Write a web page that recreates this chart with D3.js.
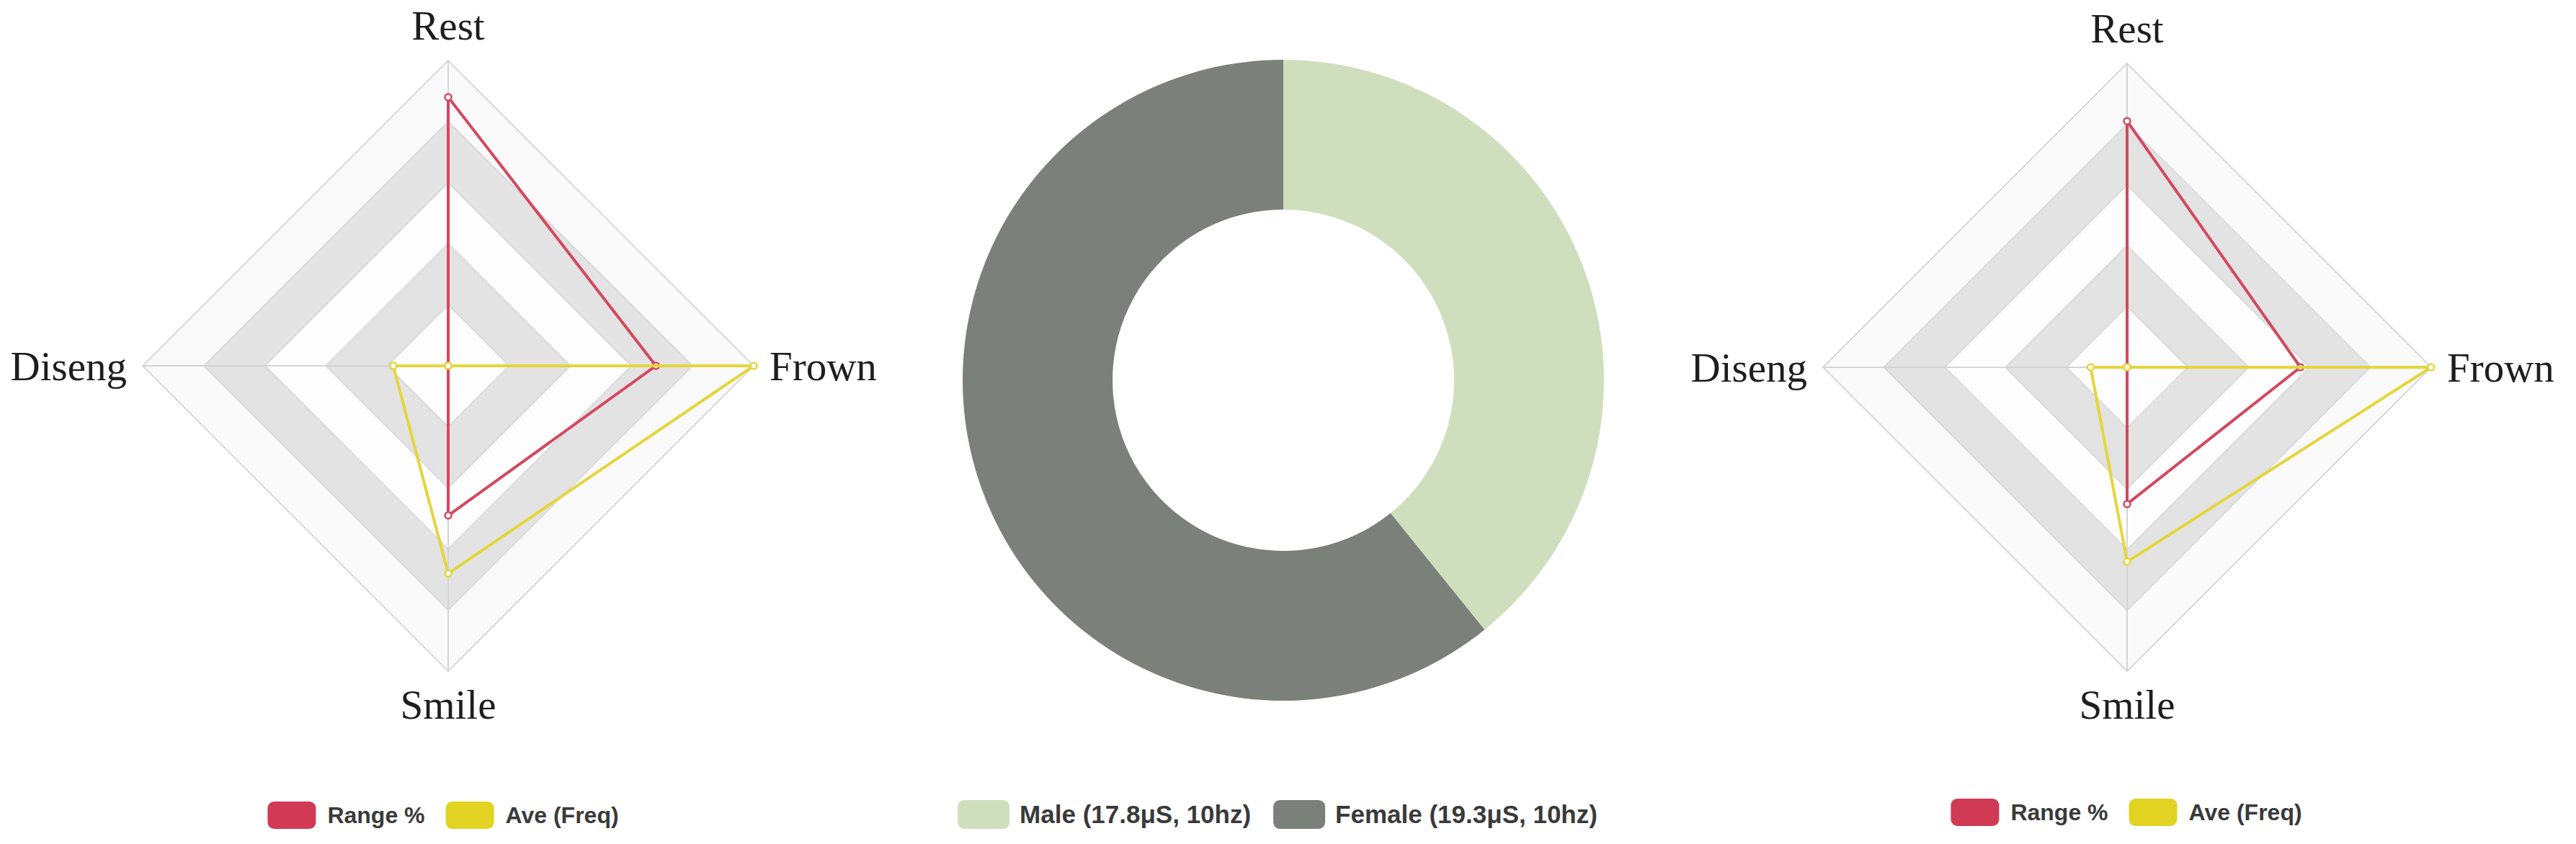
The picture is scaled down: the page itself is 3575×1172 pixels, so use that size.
<!DOCTYPE html>
<html>
<head>
<meta charset="utf-8">
<script src="https://cdn.jsdelivr.net/npm/d3@7"></script>
<style>
  html, body { margin: 0; padding: 0; background: #ffffff; }
  svg { display: block; }
</style>
</head>
<body>
<svg id="chart" width="3575" height="1172"></svg>
<script>
// ---------------- data ----------------
const indicators = ["Rest", "Frown", "Smile", "Diseng"];
const radarMax = 100;
const splitLevels = 5;

const radarSeriesNames = ["Range %", "Ave (Freq)"];
const leftRange = [88, 68, 49, 0];
const leftAve   = [0, 100, 68, 18];
const rightRange = [81, 57, 45, 0];
const rightAve   = [0, 100, 64, 12];

const donutLabels = ["Male (17.8μS, 10hz)", "Female (19.3μS, 10hz)"];
const donutValues = [39.2, 60.8];

// ---------------- styles ----------------
const seriesLineColors = ["#d4475f", "#e4d63a"];
const seriesSwatchColors = ["#d03a55", "#e2d322"];
const donutColors = ["#cfdfbd", "#7c807a"];
const bandColors = ["#fdfdfd", "#e3e3e3"];

const svg = d3.select("#chart");

function drawRadar(cx, cy, R, rangeVals, aveVals) {
  const g = svg.append("g").attr("transform", `translate(${cx},${cy})`);
  const r = d3.scaleLinear().domain([0, radarMax]).range([0, R]);
  const angle = d3.scalePoint().domain(indicators).range([0, 2 * Math.PI * (indicators.length - 1) / indicators.length]);

  const ring = (val) => d3.lineRadial()
    .angle(d => angle(d))
    .radius(() => r(val))
    .curve(d3.curveLinearClosed)(indicators);

  // split areas from outermost to innermost
  const levels = d3.range(splitLevels, 0, -1);
  levels.forEach(k => {
    g.append("path")
      .attr("d", ring(radarMax * k / splitLevels))
      .attr("fill", k === splitLevels ? "#fafafa" : bandColors[(k - 1) % 2])
      .attr("stroke", "none");
  });
  levels.forEach(k => {
    g.append("path")
      .attr("d", ring(radarMax * k / splitLevels))
      .attr("fill", "none")
      .attr("stroke", "#dadada")
      .attr("stroke-width", 2);
  });
  // axis lines
  indicators.forEach(ind => {
    const a = angle(ind);
    g.append("line")
      .attr("x1", 0).attr("y1", 0)
      .attr("x2", r(radarMax) * Math.sin(a))
      .attr("y2", -r(radarMax) * Math.cos(a))
      .attr("stroke", "#d4d4d4")
      .attr("stroke-width", 2);
  });

  // indicator labels
  const gap = 22;
  indicators.forEach(ind => {
    const a = angle(ind);
    const x = (r(radarMax) + gap) * Math.sin(a);
    const y = -(r(radarMax) + gap) * Math.cos(a);
    let anchor = "middle", baseline = "middle";
    const s = Math.sin(a), c = Math.cos(a);
    if (s > 0.5) anchor = "start";
    else if (s < -0.5) anchor = "end";
    let dy = "0.35em";
    if (c > 0.5) dy = "-0.12em";     // top
    else if (c < -0.5) dy = "0.78em"; // bottom
    g.append("text")
      .attr("x", x).attr("y", y)
      .attr("dy", dy)
      .attr("text-anchor", anchor)
      .attr("font-family", "'Liberation Serif', 'Times New Roman', serif")
      .attr("font-size", 57)
      .attr("fill", "#1e1e1e")
      .text(ind);
  });

  // series
  [rangeVals, aveVals].forEach((vals, i) => {
    const line = d3.lineRadial()
      .angle((d, j) => angle(indicators[j]))
      .radius(d => r(d))
      .curve(d3.curveLinearClosed);
    g.append("path")
      .attr("d", line(vals))
      .attr("fill", "none")
      .attr("stroke", seriesLineColors[i])
      .attr("stroke-width", 4)
      .attr("stroke-linejoin", "round");
    g.selectAll(null).data(vals).enter().append("circle")
      .attr("cx", (d, j) => r(d) * Math.sin(angle(indicators[j])))
      .attr("cy", (d, j) => -r(d) * Math.cos(angle(indicators[j])))
      .attr("r", 4.5)
      .attr("fill", "#ffffff")
      .attr("stroke", seriesLineColors[i])
      .attr("stroke-width", 2.5);
  });
}

function drawLegend(cxCenter, cy, names, colors, fontSize, swW, swH, textGap, itemGap) {
  const g = svg.append("g");
  const items = [];
  let x = 0;
  names.forEach((name, i) => {
    const sw = g.append("rect")
      .attr("width", swW).attr("height", swH)
      .attr("rx", 9).attr("ry", 9)
      .attr("fill", colors[i]);
    const t = g.append("text")
      .attr("font-family", "'Liberation Sans', Arial, sans-serif")
      .attr("font-weight", "bold")
      .attr("font-size", fontSize)
      .attr("fill", "#3a3a3a")
      .attr("dy", "0.35em")
      .text(name);
    const tw = t.node().getComputedTextLength();
    items.push({ sw, t, x, tw });
    x += swW + textGap + tw + itemGap;
  });
  const total = x - itemGap;
  const x0 = cxCenter - total / 2;
  items.forEach(it => {
    it.sw.attr("x", x0 + it.x).attr("y", cy - swH / 2);
    it.t.attr("x", x0 + it.x + swW + textGap).attr("y", cy);
  });
}

// left radar
drawRadar(622, 508, 424, leftRange, leftAve);
drawLegend(615, 1132, radarSeriesNames, seriesSwatchColors, 32, 67, 38, 16, 29);

// right radar
drawRadar(2952, 510, 422, rightRange, rightAve);
drawLegend(2951, 1128, radarSeriesNames, seriesSwatchColors, 32, 67, 38, 16, 29);

// donut
const pie = d3.pie().sort(null).startAngle(0).endAngle(2 * Math.PI);
const arc = d3.arc().innerRadius(237).outerRadius(445);
const dg = svg.append("g").attr("transform", "translate(1781,528)");
dg.selectAll("path").data(pie(donutValues)).enter().append("path")
  .attr("d", arc)
  .attr("fill", (d, i) => donutColors[i]);
drawLegend(1773, 1131, donutLabels, donutColors, 35, 72, 40, 14, 31);
</script>
</body>
</html>
